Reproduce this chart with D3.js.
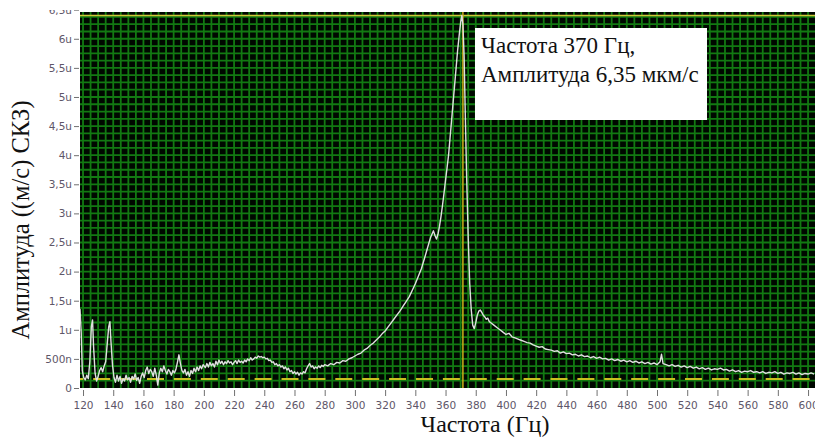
<!DOCTYPE html>
<html>
<head>
<meta charset="utf-8">
<script src="https://cdn.jsdelivr.net/npm/d3@7"></script>
<style>
  body { margin: 0; background: #fff; }
  svg { display: block; }
  .axis .domain { display: none; }
  .axis .tick line { stroke: #707070; }
  .axis .tick text { font-family: "DejaVu Sans", sans-serif; font-size: 10.5px; fill: #5e5668; }
  .title { font-family: "Liberation Serif", serif; fill: #111; }
</style>
</head>
<body>
<div id="chart"></div>
<script>
// Data (amplitude in µm/s, frequency in Hz)
const freqs = [
  118, 118.8, 119.5, 120.5, 121.5, 122.5, 123.5, 124.5, 125.5, 126.3, 127, 128, 129, 130, 131, 132, 133, 134, 135, 136,
  137, 137.8, 138.5, 139.5, 140.5, 141.5, 142.5, 143.5, 144.5, 145.5, 146.5, 147.5, 148.5, 149.5, 150.5, 151.5, 152.5, 153.5, 154.5, 155.5,
  156.5, 157.5, 158.5, 159.5, 160.5, 161.5, 162.5, 163.5, 164.5, 165.5, 166.5, 167.5, 168.5, 169.5, 170.5, 171.5, 172.5, 173.5, 174.5, 175.5,
  176.5, 177.5, 178.5, 179.5, 180.5, 181.5, 182.5, 183.5, 184.5, 185.5, 186.5, 187.5, 188.5, 189.5, 190.5, 191.5, 192.5, 193.5, 194.5, 195.5,
  196.5, 197.5, 198.5, 199.5, 201, 202, 203, 204, 205, 206, 207, 208, 209, 210, 211, 212, 213, 214, 215, 216,
  217, 218, 219, 220, 221, 222, 223, 224, 225, 226, 227, 228, 229, 230, 231, 232, 233, 234, 235, 236,
  237, 238, 239, 240, 241, 242, 243, 244, 245, 246, 247, 248, 249, 250, 251, 252, 253, 254, 255, 256,
  257, 258, 259, 260, 261, 262, 263, 264, 265, 266, 267, 268, 269, 270, 271, 272, 273, 274, 275, 276,
  277, 278, 279, 280, 282, 284, 286, 288, 290, 292, 294, 296, 298, 300, 302, 304, 306, 308, 310, 312,
  314, 316, 318, 320, 322, 324, 326, 328, 330, 332, 334, 336, 338, 340, 342, 344, 346, 348, 350, 351,
  352, 353, 354, 355, 356, 357, 358, 359, 360, 361, 362, 363, 364, 365, 366, 367, 368, 369, 370, 370.8,
  371.5, 372.3, 373, 374, 375, 376, 377, 378, 379, 380, 381, 382, 383, 384, 385, 386, 387, 388, 389, 390,
  392, 394, 396, 398, 400, 402, 404, 406, 408, 410, 412, 414, 416, 418, 420, 422, 424, 426, 428, 430,
  432, 434, 436, 438, 440, 442, 444, 446, 448, 450, 452, 454, 456, 458, 460, 462, 464, 466, 468, 470,
  472, 474, 476, 478, 480, 482, 484, 486, 488, 490, 492, 494, 496, 498, 500, 502, 503, 504, 506, 508,
  510, 512, 514, 516, 518, 520, 522, 524, 526, 528, 530, 532, 534, 536, 538, 540, 542, 544, 546, 548,
  550, 552, 554, 556, 558, 560, 562, 564, 566, 568, 570, 572, 574, 576, 578, 580, 582, 584, 586, 588,
  590, 592, 594, 596, 598, 600, 602, 604
]
const amps = [
  1.36, 0.95, 0.30, 0.18, 0.14, 0.22, 0.16, 0.45, 1.05, 1.17, 0.70, 0.25, 0.12, 0.20, 0.30, 0.35, 0.28, 0.38, 0.45, 0.75,
  1.05, 1.14, 0.80, 0.40, 0.18, 0.10, 0.22, 0.12, 0.20, 0.08, 0.16, 0.12, 0.22, 0.14, 0.18, 0.10, 0.20, 0.15, 0.24, 0.13,
  0.18, 0.08, 0.20, 0.26, 0.18, 0.30, 0.36, 0.25, 0.32, 0.28, 0.20, 0.34, 0.22, 0.05, 0.26, 0.34, 0.28, 0.38, 0.30, 0.24,
  0.32, 0.28, 0.22, 0.30, 0.26, 0.32, 0.44, 0.57, 0.42, 0.30, 0.26, 0.32, 0.22, 0.28, 0.20, 0.30, 0.25, 0.34, 0.28, 0.36,
  0.30, 0.38, 0.33, 0.40, 0.35, 0.42, 0.36, 0.44, 0.38, 0.42, 0.36, 0.46, 0.40, 0.48, 0.42, 0.46, 0.40, 0.45, 0.42, 0.47,
  0.43, 0.45, 0.40, 0.44, 0.47, 0.42, 0.48, 0.44, 0.46, 0.43, 0.48, 0.45, 0.50, 0.47, 0.52, 0.48, 0.50, 0.53, 0.51, 0.55,
  0.53, 0.54, 0.52, 0.53, 0.50, 0.51, 0.47, 0.48, 0.44, 0.45, 0.40, 0.42, 0.38, 0.40, 0.36, 0.38, 0.33, 0.36, 0.31, 0.34,
  0.28, 0.30, 0.25, 0.28, 0.24, 0.27, 0.22, 0.26, 0.24, 0.28, 0.26, 0.33, 0.38, 0.42, 0.36, 0.38, 0.33, 0.36, 0.34, 0.38,
  0.35, 0.39, 0.37, 0.40, 0.38, 0.42, 0.40, 0.44, 0.43, 0.47, 0.46, 0.50, 0.52, 0.55, 0.58, 0.60, 0.65, 0.68, 0.73, 0.77,
  0.82, 0.87, 0.93, 0.98, 1.05, 1.12, 1.19, 1.26, 1.33, 1.41, 1.49, 1.57, 1.68, 1.79, 1.92, 2.05, 2.22, 2.40, 2.58, 2.64,
  2.70, 2.62, 2.56, 2.64, 2.78, 2.95, 3.14, 3.35, 3.57, 3.78, 4.00, 4.30, 4.60, 4.90, 5.20, 5.50, 5.80, 6.05, 6.28, 6.40,
  6.25, 5.70, 4.80, 3.60, 2.60, 1.80, 1.35, 1.08, 1.02, 1.12, 1.25, 1.32, 1.34, 1.30, 1.25, 1.22, 1.18, 1.20, 1.14, 1.12,
  1.08, 1.04, 1.00, 0.96, 0.92, 0.94, 0.88, 0.86, 0.84, 0.82, 0.80, 0.78, 0.77, 0.74, 0.72, 0.70, 0.71, 0.67, 0.66, 0.65,
  0.63, 0.64, 0.60, 0.62, 0.59, 0.60, 0.57, 0.58, 0.55, 0.57, 0.54, 0.55, 0.52, 0.54, 0.51, 0.53, 0.50, 0.51, 0.48, 0.50,
  0.47, 0.49, 0.46, 0.48, 0.45, 0.47, 0.44, 0.46, 0.43, 0.45, 0.42, 0.44, 0.41, 0.43, 0.40, 0.45, 0.58, 0.42, 0.40, 0.38,
  0.40, 0.37, 0.39, 0.36, 0.38, 0.35, 0.37, 0.34, 0.36, 0.33, 0.35, 0.32, 0.34, 0.31, 0.33, 0.32, 0.34, 0.31, 0.32, 0.29,
  0.31, 0.28, 0.30, 0.27, 0.29, 0.28, 0.30, 0.27, 0.28, 0.26, 0.28, 0.25, 0.27, 0.26, 0.28, 0.25, 0.27, 0.24, 0.26, 0.25,
  0.27, 0.24, 0.26, 0.23, 0.25, 0.24, 0.26, 0.24
]

const xTicks = [120, 140, 160, 180, 200, 220, 240, 260, 280, 300, 320, 340, 360, 380, 400, 420, 440, 460, 480, 500, 520, 540, 560, 580, 600]
const yTicks = [0, 0.5, 1, 1.5, 2, 2.5, 3, 3.5, 4, 4.5, 5, 5.5, 6, 6.5]
const yTickLabels = ['0', '500n', '1u', '1,5u', '2u', '2,5u', '3u', '3,5u', '4u', '4,5u', '5u', '5,5u', '6u', '6,5u']

const cursorFreq = 371.5
const cursorAmp = 6.4
const thresholdAmp = 0.155
const noteLines = ['Частота 370 Гц,', 'Амплитуда 6,35 мкм/с']

const dataset = freqs.map((f, i) => ({ f, a: amps[i] }))
const xAccessor = d => d.f
const yAccessor = d => d.a

// Dimensions
let dimensions = {
  width: 815,
  height: 439,
  left: 80,
  right: 815,
  top: 12,
  bottom: 388,
}

const svg = d3.select('#chart')
  .append('svg')
  .attr('width', dimensions.width)
  .attr('height', dimensions.height)

// Scales
const xScale = d3.scaleLinear()
  .domain([118, 604.6])
  .range([dimensions.left, dimensions.right])

const yScale = d3.scaleLinear()
  .domain([0, 6.46])
  .range([dimensions.bottom, dimensions.top])

svg.append('clipPath').attr('id', 'plot')
  .append('rect')
  .attr('x', dimensions.left).attr('y', dimensions.top)
  .attr('width', dimensions.right - dimensions.left)
  .attr('height', dimensions.bottom - dimensions.top)

// plot background
svg.append('rect')
  .attr('x', dimensions.left).attr('y', dimensions.top)
  .attr('width', dimensions.right - dimensions.left)
  .attr('height', dimensions.bottom - dimensions.top)
  .attr('fill', '#000800')

const plot = svg.append('g').attr('clip-path', 'url(#plot)')

// grid: every 5 Hz and every 0.125 u
const gridColor = '#127a12'

plot.append('g').selectAll('line')
  .data(d3.range(120, 605, 5))
  .join('line')
  .attr('x1', d => xScale(d)).attr('x2', d => xScale(d))
  .attr('y1', dimensions.top).attr('y2', dimensions.bottom)
  .attr('stroke', gridColor)
  .attr('stroke-width', 1.8)

plot.append('g').selectAll('line')
  .data(d3.range(0.125, 6.46, 0.125))
  .join('line')
  .attr('y1', d => yScale(d)).attr('y2', d => yScale(d))
  .attr('x1', dimensions.left).attr('x2', dimensions.right)
  .attr('stroke', gridColor)
  .attr('stroke-width', 1.8)

// dashed threshold line
plot.append('line')
  .attr('x1', dimensions.left).attr('x2', dimensions.right)
  .attr('y1', yScale(thresholdAmp)).attr('y2', yScale(thresholdAmp))
  .attr('stroke', '#c8c020')
  .attr('stroke-width', 2)
  .attr('stroke-dasharray', '17,9.9')
  .attr('stroke-dashoffset', 13.7)

// cursors
plot.append('line')
  .attr('x1', dimensions.left).attr('x2', dimensions.right)
  .attr('y1', yScale(cursorAmp)).attr('y2', yScale(cursorAmp))
  .attr('stroke', '#d0c838')
  .attr('stroke-width', 1.6)

plot.append('line')
  .attr('x1', xScale(cursorFreq)).attr('x2', xScale(cursorFreq))
  .attr('y1', dimensions.top).attr('y2', dimensions.bottom)
  .attr('stroke', '#c0a818')
  .attr('stroke-width', 1.6)

// spectrum line
const lineGenerator = d3.line()
  .x(d => xScale(xAccessor(d)))
  .y(d => yScale(yAccessor(d)))

plot.append('path')
  .datum(dataset)
  .attr('d', lineGenerator)
  .attr('fill', 'none')
  .attr('stroke', '#e0e0e0')
  .attr('stroke-width', 1.4)
  .attr('stroke-linejoin', 'round')

// Axis
const xAxis = d3.axisBottom(xScale)
  .tickValues(xTicks)
  .tickSize(6)
  .tickPadding(6)

svg.append('g')
  .attr('class', 'axis')
  .attr('transform', `translate(0, ${dimensions.bottom + 2})`)
  .call(xAxis)

const yAxis = d3.axisLeft(yScale)
  .tickValues(yTicks)
  .tickSize(5)
  .tickPadding(2)
  .tickFormat((d, i) => yTickLabels[i])

svg.append('g')
  .attr('class', 'axis')
  .attr('transform', `translate(${dimensions.left - 1}, 0)`)
  .call(yAxis)

// top strip: the source picture cuts the 6,5u label in half
svg.append('rect')
  .attr('x', 0).attr('y', 0)
  .attr('width', dimensions.left - 1).attr('height', 10)
  .attr('fill', '#fff')

// Titles
svg.append('text')
  .attr('class', 'title')
  .attr('x', 485)
  .attr('y', 432)
  .attr('text-anchor', 'middle')
  .style('font-size', '24px')
  .text('Частота (Гц)')

svg.append('text')
  .attr('class', 'title')
  .attr('transform', 'translate(29, 220) rotate(-90)')
  .attr('text-anchor', 'middle')
  .style('font-size', '24.5px')
  .text('Амплитуда ((м/с) СКЗ)')

// Annotation
svg.append('rect')
  .attr('x', 475).attr('y', 28)
  .attr('width', 232).attr('height', 92)
  .attr('fill', '#fff')

svg.append('g').selectAll('text')
  .data(noteLines)
  .join('text')
  .attr('class', 'title')
  .attr('x', 481)
  .attr('y', (d, i) => 53 + i * 29)
  .style('font-size', '23px')
  .text(d => d)
</script>
</body>
</html>
